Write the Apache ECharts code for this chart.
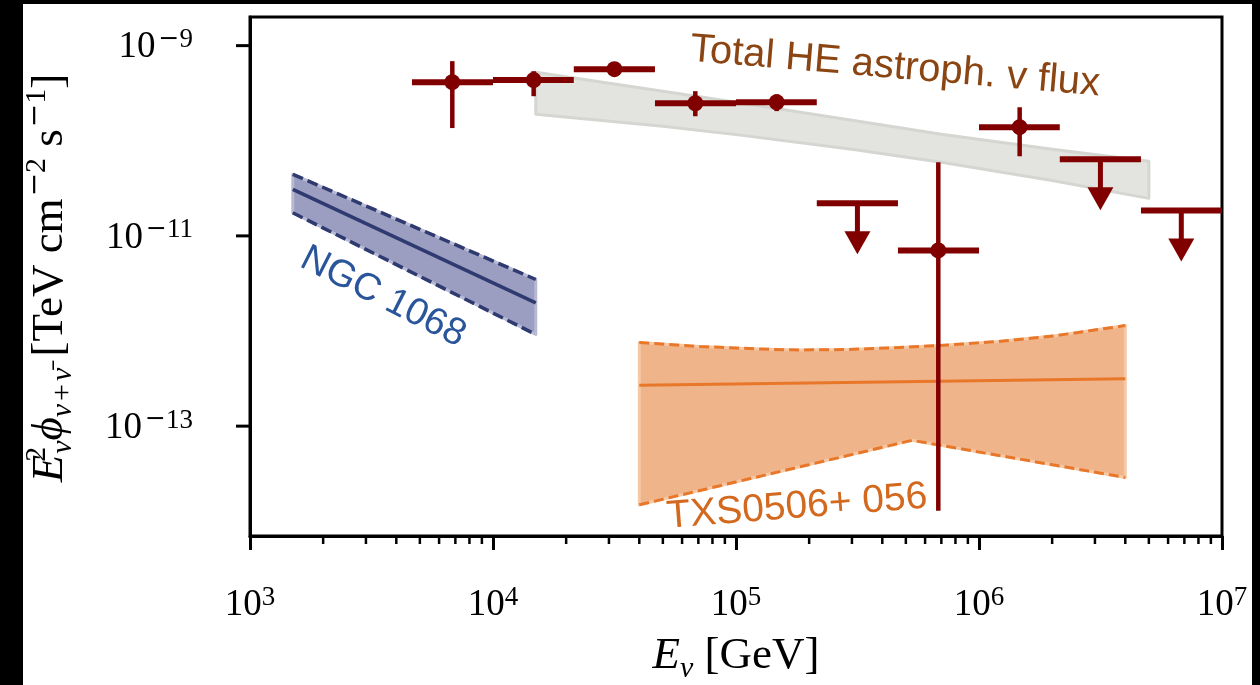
<!DOCTYPE html>
<html><head><meta charset="utf-8">
<script src="https://cdn.jsdelivr.net/npm/echarts@6.0.0/dist/echarts.min.js"></script>
<style>html,body{margin:0;padding:0;background:#fff;}#chart{width:1260px;height:685px;}</style>
</head><body><div id="chart"></div>
<script>
// ---------------- DATA ----------------
// Total HE astrophysical neutrino flux: binned measurements (GeV, TeV cm^-2 s^-1)
const binCenter = [6.8e3, 1.47e4, 3.16e4, 6.8e4, 1.47e5, 3.16e5, 6.8e5, 1.47e6, 3.16e6, 6.8e6];
const binLow    = [4.64e3, 1.0e4, 2.15e4, 4.64e4, 1.0e5, 2.15e5, 4.64e5, 1.0e6, 2.15e6, 4.64e6];
const binHigh   = [1.0e4, 2.15e4, 4.64e4, 1.0e5, 2.15e5, 4.64e5, 1.0e6, 2.15e6, 4.64e6, 1.0e7];
const flux      = [4.13e-10, 4.34e-10, 5.66e-10, 2.48e-10, 2.54e-10, 2.20e-11, 7.03e-12, 1.39e-10, 6.38e-11, 1.85e-11];
const fluxErrLo = [1.36e-10, 2.94e-10, 5.66e-10, 1.81e-10, 2.05e-10, null, 1.29e-14, 6.87e-11, null, null];
const fluxErrHi = [6.87e-10, 5.39e-10, 5.66e-10, 3.32e-10, 3.08e-10, null, 5.94e-11, 2.25e-10, null, null];
const isUpperLimit = [false, false, false, false, false, true, false, false, true, true];

// Total flux band (gray)
const grayE     = [1.5e4, 5.0e4, 1.0e5, 3.0e5, 7.0e5, 2.0e6, 5.0e6];
const grayUpper = [5.26e-10, 3.32e-10, 2.54e-10, 1.64e-10, 1.17e-10, 8.15e-11, 6.08e-11];
const grayLower = [1.90e-10, 1.42e-10, 1.16e-10, 8.15e-11, 5.94e-11, 3.83e-11, 2.48e-11];

// NGC 1068 band
const ngcE     = [1.5e3, 1.5e4];
const ngcUpper = [4.44e-11, 3.48e-12];
const ngcBest  = [3.08e-11, 1.98e-12];
const ngcLower = [1.75e-11, 9.2e-13];

// TXS 0506+056 band
const txsUpperE = [4.0e4, 7.1e4, 1.25e5, 1.8e5, 2.9e5, 4.7e5, 6.9e5, 1.2e6, 2.1e6, 4.0e6];
const txsUpper  = [7.57e-13, 6.87e-13, 6.47e-13, 6.31e-13, 6.39e-13, 6.70e-13, 7.03e-13, 7.75e-13, 8.97e-13, 1.14e-12];
const txsBestE  = [4.0e4, 4.0e6];
const txsBest   = [2.69e-13, 3.14e-13];
const txsLowerE = [4.0e4, 5.3e5, 4.0e6];
const txsLower  = [1.49e-14, 7.1e-14, 2.89e-14];

// Axis ticks
const yTickValues = [1e-9, 1e-11, 1e-13];
const xDecades = [1e3, 1e4, 1e5, 1e6];
const xMinorMultipliers = [2, 3, 4, 5, 6, 7, 8, 9];
const X_MIN = 1e3, X_MAX = 1e7, Y_MIN = 7.0e-15, Y_MAX = 2.0e-9;

// ---------------- STYLE ----------------
const SERIF = "'Liberation Serif', 'DejaVu Serif', serif";
const MINUSF = "'DejaVu Serif', serif";
const SANS = "'Liberation Sans', Arial, sans-serif";
const RED = '#800000';

const minorTicks = [];
xDecades.forEach(d => xMinorMultipliers.forEach(m => minorTicks.push([d * m, Y_MIN])));

const pointData = binCenter.map((e, i) => [
  e, flux[i], binLow[i], binHigh[i],
  fluxErrLo[i] == null ? flux[i] : fluxErrLo[i],
  fluxErrHi[i] == null ? flux[i] : fluxErrHi[i],
  isUpperLimit[i] ? 1 : 0
]);

function pts(api, xs, ys) { return xs.map((x, i) => api.coord([x, ys[i]])); }

function bandSeries(z, upE, up, loE, lo, bestE, best, fill, edge, lineColor, lineW, dash) {
  return {
    type: 'custom', z: z, coordinateSystem: 'cartesian2d',
    data: [[upE[0], up[0]]], encode: { x: 0, y: 1 }, silent: true,
    renderItem: (params, api) => {
      const u = pts(api, upE, up);
      const l = pts(api, loE, lo);
      const children = [{ type: 'polygon', shape: { points: u.concat(l.slice().reverse()) },
        style: { fill: fill, stroke: edge, lineWidth: 3, lineJoin: 'round' } }];
      if (dash) {
        children.push({ type: 'polyline', shape: { points: u }, style: { fill: null, stroke: lineColor, lineWidth: lineW, lineDash: dash } });
        children.push({ type: 'polyline', shape: { points: l }, style: { fill: null, stroke: lineColor, lineWidth: lineW, lineDash: dash } });
      }
      if (best) {
        children.push({ type: 'polyline', shape: { points: pts(api, bestE, best) }, style: { fill: null, stroke: lineColor, lineWidth: lineW } });
      }
      return { type: 'group', children: children };
    }
  };
}

const tickRich = {
  b: { fontFamily: SERIF, fontSize: 37, lineHeight: 42, color: '#000' },
  m: { fontFamily: MINUSF, fontSize: 25, lineHeight: 28, verticalAlign: 'top', color: '#000', padding: [0, 0, 0, 3] },
  s: { fontFamily: SERIF, fontSize: 27, lineHeight: 30, verticalAlign: 'top', color: '#000' }
};
const tickRichZr = {
  b: { fontFamily: SERIF, fontSize: 37, lineHeight: 42, fill: '#000' },
  m: { fontFamily: MINUSF, fontSize: 25, lineHeight: 28, verticalAlign: 'top', fill: '#000', padding: [0, 0, 0, 3] },
  s: { fontFamily: SERIF, fontSize: 27, lineHeight: 30, verticalAlign: 'top', fill: '#000' }
};

const titleRich = {
  i: { fontFamily: SERIF, fontStyle: 'italic', fontSize: 45, lineHeight: 56, fill: '#000' },
  r: { fontFamily: SERIF, fontSize: 45, lineHeight: 56, fill: '#000' },
  sp: { fontFamily: SERIF, fontSize: 30, lineHeight: 36, verticalAlign: 'top', fill: '#000', width: 1 },
  m: { fontFamily: MINUSF, fontSize: 28, lineHeight: 36, verticalAlign: 'top', fill: '#000', padding: [0, 0, 0, 2] },
  sp2: { fontFamily: SERIF, fontSize: 30, lineHeight: 36, verticalAlign: 'top', fill: '#000' },
  sb: { fontFamily: SERIF, fontStyle: 'italic', fontSize: 30, lineHeight: 36, verticalAlign: 'bottom', fill: '#000' },
  sbr: { fontFamily: SERIF, fontSize: 30, lineHeight: 36, verticalAlign: 'bottom', fill: '#000', padding: [0, 3, 0, 3] }
};

const option = {
  backgroundColor: '#fff',
  animation: false,
  grid: { left: 250, right: 38, top: 17, bottom: 149, show: true, borderColor: '#000', borderWidth: 3,
          backgroundColor: 'transparent', containLabel: false, outerBoundsMode: 'none' },
  xAxis: {
    type: 'log', logBase: 10, min: X_MIN, max: X_MAX,
    axisLine: { show: true, lineStyle: { color: '#000', width: 3 } },
    axisTick: { show: true, inside: false, length: 14, lineStyle: { color: '#000', width: 3 } },
    minorTick: { show: false },
    splitLine: { show: false },
    axisLabel: { margin: 48, formatter: v => '{b|10}{s|' + Math.round(Math.log10(v)) + '}', rich: tickRich }
  },
  yAxis: {
    type: 'log', logBase: 10, min: Y_MIN, max: Y_MAX,
    axisLine: { show: true, lineStyle: { color: '#000', width: 3 } },
    axisTick: { show: false }, axisLabel: { show: false }, splitLine: { show: false }, minorTick: { show: false }
  },
  series: [
    bandSeries(1, grayE, grayUpper, grayE, grayLower, null, null, '#e3e4e0', '#d4d6d1', null, 0, null),
    bandSeries(2, ngcE, ngcUpper, ngcE, ngcLower, ngcE, ngcBest, '#9b9ec0', '#b8bad3', '#2e3a70', 3.5, [11, 5]),
    bandSeries(3, txsUpperE, txsUpper, txsLowerE, txsLower, txsBestE, txsBest, '#f0b48b', '#f6c9a6', '#e8772a', 3, [10, 5]),
    {
      type: 'custom', z: 5, coordinateSystem: 'cartesian2d', silent: true,
      data: pointData, encode: { x: [0, 2, 3], y: [1, 4, 5] },
      renderItem: (params, api) => {
        const e = api.value(0), f = api.value(1), lo = api.value(2), hi = api.value(3);
        const fl = api.value(4), fh = api.value(5), ul = api.value(6);
        const c = api.coord([e, f]), L = api.coord([lo, f]), R = api.coord([hi, f]);
        const ch = [{ type: 'line', shape: { x1: L[0], y1: L[1], x2: R[0], y2: R[1] }, style: { stroke: RED, lineWidth: 6 } }];
        if (ul) {
          ch.push({ type: 'line', shape: { x1: c[0], y1: c[1], x2: c[0], y2: c[1] + 30 }, style: { stroke: RED, lineWidth: 5 } });
          ch.push({ type: 'polygon', shape: { points: [[c[0] - 13, c[1] + 28], [c[0] + 13, c[1] + 28], [c[0], c[1] + 51]] }, style: { fill: RED } });
        } else {
          const T = api.coord([e, fh]), B = api.coord([e, fl]);
          ch.push({ type: 'line', shape: { x1: T[0], y1: T[1], x2: B[0], y2: B[1] }, style: { stroke: RED, lineWidth: 4.5 } });
          ch.push({ type: 'circle', shape: { cx: c[0], cy: c[1], r: 8 }, style: { fill: RED } });
        }
        return { type: 'group', children: ch };
      }
    },
    {
      // x minor ticks
      type: 'custom', z: 6, coordinateSystem: 'cartesian2d', silent: true, clip: false,
      data: minorTicks, encode: { x: 0, y: 1 },
      renderItem: (params, api) => {
        const p = api.coord([api.value(0), api.value(1)]);
        return { type: 'line', shape: { x1: p[0], y1: p[1], x2: p[0], y2: p[1] + 8 }, style: { stroke: '#000', lineWidth: 2.5 } };
      }
    },
    {
      // y major ticks + labels
      type: 'custom', z: 6, coordinateSystem: 'cartesian2d', silent: true, clip: false,
      data: yTickValues.map(v => [X_MIN, v]), encode: { x: 0, y: 1 },
      renderItem: (params, api) => {
        const v = api.value(1);
        const p = api.coord([api.value(0), v]);
        return { type: 'group', children: [
          { type: 'line', shape: { x1: p[0] - 14, y1: p[1], x2: p[0], y2: p[1] }, style: { stroke: '#000', lineWidth: 3 } },
          { type: 'text', style: { x: p[0] - 57, y: p[1] + 2, align: 'right', verticalAlign: 'middle',
            text: '{b|10}{m|\u2212}{s|' + Math.abs(Math.round(Math.log10(v))) + '}', rich: tickRichZr } }
        ] };
      }
    }
  ],
  graphic: [
    { type: 'text', x: 895, y: 67, rotation: -0.085, z: 50,
      style: { text: 'Total HE astroph. v flux', fontFamily: SANS, fontSize: 40, fill: '#8b4513', align: 'center', verticalAlign: 'middle' } },
    { type: 'text', x: 383, y: 297, rotation: -0.47, z: 50,
      style: { text: 'NGC 1068', fontFamily: SANS, fontSize: 38, fill: '#2b559a', align: 'center', verticalAlign: 'middle' } },
    { type: 'text', x: 797, y: 507, rotation: 0.077, z: 50,
      style: { text: 'TXS0506+ 056', fontFamily: SANS, fontSize: 39, fill: '#d2691e', align: 'center', verticalAlign: 'middle' } },
    { type: 'text', x: 736, y: 656, z: 50,
      style: { text: '{i|E}{sb|\u03bd}{r| [GeV]}', rich: titleRich, align: 'center', verticalAlign: 'middle' } },
    { type: 'text', x: 50, y: 278, rotation: Math.PI / 2, z: 50,
      style: { text: '{i|E}{sp|2}{sb|\u03bd}{i|\u03d5}{sb|\u03bd}{sbr|+}{sb|\u03bd\u0304}{r| [TeV cm}{m|\u2212}{sp2|2}{r| s}{m|\u2212}{sp2|1}{r|]}', rich: titleRich, align: 'center', verticalAlign: 'middle' } },
    { type: 'rect', z: 100, shape: { x: 0, y: 0, width: 23, height: 685 }, style: { fill: '#000' } },
    { type: 'rect', z: 100, shape: { x: 0, y: 0, width: 1260, height: 4 }, style: { fill: '#000' } },
    { type: 'rect', z: 100, shape: { x: 1252, y: 0, width: 8, height: 685 }, style: { fill: '#000' } }
  ]
};
const chart = echarts.init(document.getElementById('chart'));
chart.setOption(option);
</script>
</body></html>
